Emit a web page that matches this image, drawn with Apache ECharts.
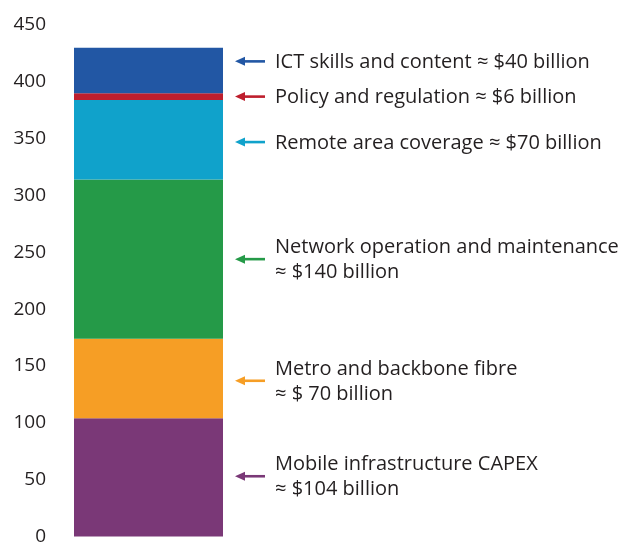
<!DOCTYPE html>
<html>
<head>
<meta charset="utf-8">
<script src="https://cdn.jsdelivr.net/npm/echarts@6/dist/echarts.min.js"></script>
<style>
  html, body { margin: 0; padding: 0; background: #fff; }
  #chart { width: 626px; height: 546px; }
</style>
</head>
<body>
<div id="chart"></div>
<script>
// Investment components (US$ billion), stacked bottom to top
const categories = ['Total'];
const segmentNames = [
  'Mobile infrastructure CAPEX',
  'Metro and backbone fibre',
  'Network operation and maintenance',
  'Remote area coverage',
  'Policy and regulation',
  'ICT skills and content'
];
const segmentValues = [104, 70, 140, 70, 6, 40];
const segmentColors = ['#7a3877', '#f69e25', '#259a48', '#10a2cb', '#be1e2d', '#2257a4'];

// Callout text and the axis value each arrow points at
const calloutTexts = [
  'Mobile infrastructure CAPEX\n≈ $104 billion',
  'Metro and backbone fibre\n≈ $ 70 billion',
  'Network operation and maintenance\n≈ $140 billion',
  'Remote area coverage ≈ $70 billion',
  'Policy and regulation ≈ $6 billion',
  'ICT skills and content ≈ $40 billion'
];
const calloutAt = [53, 137, 244, 347, 387, 418];

// Y-axis ticks
const yMin = 0, yMax = 450, yStep = 50;

const FONT = '"Open Sans"';
const TEXT_COLOR = '#231f20';
const BAR_W = 149;

const chart = echarts.init(document.getElementById('chart'), null, { renderer: 'canvas' });

const barSeries = segmentValues.map((v, i) => ({
  name: segmentNames[i],
  type: 'bar',
  stack: 'total',
  barWidth: BAR_W,
  data: [v],
  itemStyle: { color: segmentColors[i] },
  emphasis: { disabled: true },
  silent: true
}));

const calloutSeries = {
  type: 'custom',
  silent: true,
  z: 10,
  data: calloutAt.map((y, i) => [0, y, i]),
  renderItem: function (params, api) {
    const pt = api.coord([api.value(0), api.value(1)]);
    const i = api.value(2);
    const x0 = pt[0] + BAR_W / 2 + 12;   // arrow tip
    const x1 = x0 + 30;                   // arrow tail
    const y = pt[1];
    const col = segmentColors[i];
    return {
      type: 'group',
      children: [
        { type: 'line', shape: { x1: x0 + 6, y1: y, x2: x1, y2: y },
          style: { stroke: col, lineWidth: 2.6 } },
        { type: 'polygon', shape: { points: [[x0, y], [x0 + 10, y - 4.5], [x0 + 10, y + 4.5]] },
          style: { fill: col } },
        { type: 'text', x: x1 + 10, y: y + 1,
          style: { text: calloutTexts[i], fill: TEXT_COLOR, font: '20px ' + FONT,
                   textAlign: 'left', textVerticalAlign: 'middle', lineHeight: 25 } }
      ]
    };
  }
};

chart.setOption({
  animation: false,
  backgroundColor: '#ffffff',
  grid: { left: 74, top: 25, bottom: 9, width: BAR_W },
  xAxis: {
    type: 'category',
    data: categories,
    show: false
  },
  yAxis: {
    type: 'value',
    min: yMin, max: yMax, interval: yStep,
    axisLine: { show: false },
    axisTick: { show: false },
    splitLine: { show: false },
    axisLabel: { color: TEXT_COLOR, fontSize: 19, fontFamily: FONT, margin: 28 }
  },
  series: barSeries.concat([calloutSeries])
});
</script>
</body>
</html>
